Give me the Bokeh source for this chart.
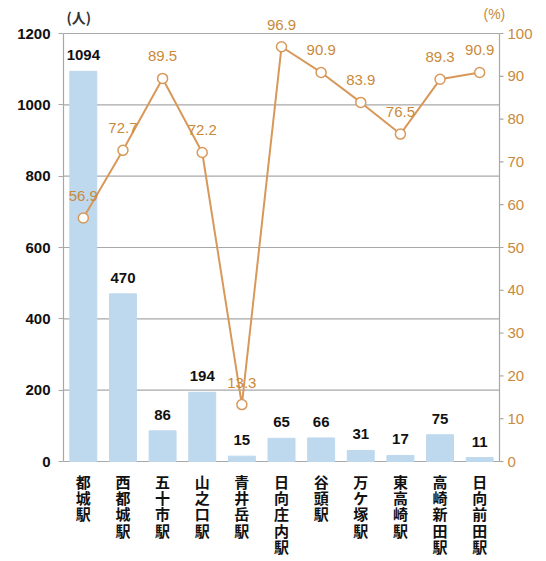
from bokeh.plotting import figure
from bokeh.models import Range1d, ColumnDataSource, Label, FixedTicker
from bokeh.core.properties import value
from bokeh.embed import file_html
from bokeh.resources import INLINE

stations = ["都城駅", "西都城駅", "五十市駅", "山之口駅", "青井岳駅", "日向庄内駅",
            "谷頭駅", "万ケ塚駅", "東高崎駅", "高崎新田駅", "日向前田駅"]
passengers = [1094, 470, 86, 194, 15, 65, 66, 31, 17, 75, 11]
rates = [56.9, 72.7, 89.5, 72.2, 13.3, 96.9, 90.9, 83.9, 76.5, 89.3, 90.9]
left_ticks = [0, 200, 400, 600, 800, 1000, 1200]
right_ticks = [0, 10, 20, 30, 40, 50, 60, 70, 80, 90, 100]

BAR = "#bed8ee"
LINE = "#d8985a"
TXT = "#c98a3c"
GRID = "#a8a8a8"
JP = "Noto Sans CJK JP"

# layout: plot area x 63..499, value 0 at y=461, 1200 at y=33 (frame y 5..561)
N = len(stations)
CELL = 436 / N
PX = 428 / 1200.0
Y0 = -100 / PX
Y1 = 1200 + 28 / PX
XR = -0.5 + (546 - 63) / CELL
XEND = N - 0.5
TICK = 4 / CELL

idx = list(range(N))
src = ColumnDataSource(dict(
    x=idx, n=passengers, r=rates,
    nl=[str(v) for v in passengers],
    rl=[f"{v:.1f}" for v in rates],
    vl=["\n".join(s) for s in stations],
    z=[0] * N,
))
lt = ColumnDataSource(dict(y=left_ticks, x0=[-0.5] * len(left_ticks), x1=[XEND] * len(left_ticks)))
rt = ColumnDataSource(dict(y=right_ticks, x0=[XEND] * len(right_ticks),
                           x1=[XEND + TICK] * len(right_ticks),
                           lab=[str(v) for v in right_ticks]))

p = figure(x_range=Range1d(-0.5, XR), y_range=Range1d(Y0, Y1), width=546, height=561,
           output_backend="svg", toolbar_location=None,
           min_border_left=63, min_border_right=0, min_border_top=5, min_border_bottom=0)
p.extra_y_ranges = {"pct": Range1d(Y0 / 12.0, Y1 / 12.0)}

# grid lines (only across plot area)
p.segment(x0="x0", x1="x1", y0="y", y1="y", source=lt, color=GRID, line_width=1.2)

p.vbar(x="x", top="n", width=0.68, color=BAR, source=src)
p.text(x="x", y="n", text="nl", source=src, text_align="center", text_baseline="bottom",
       y_offset=-11, text_font=value("Liberation Sans"), text_font_style="bold",
       text_font_size="15px", text_color="#111111")

p.line(x="x", y="r", source=src, y_range_name="pct", color=LINE, line_width=2)
p.scatter(x="x", y="r", source=src, y_range_name="pct", size=10, fill_color="white",
          line_color=LINE, line_width=1.5)
p.text(x="x", y="r", text="rl", source=src, y_range_name="pct", text_align="center",
       text_baseline="bottom", y_offset=-17, text_font=value("Liberation Sans"),
       text_font_size="15px", text_color=TXT)

# vertical category labels
p.text(x="x", y="z", text="vl", source=src, text_align="center", text_baseline="top",
       y_offset=9, text_font=value(JP), text_font_style="bold", text_font_size="15px",
       text_line_height=0.78, text_color="#111111")

# right axis (drawn inside the canvas)
p.segment(x0=XEND, x1=XEND, y0=0, y1=100, y_range_name="pct", color=GRID, line_width=1.2)
p.segment(x0="x0", x1="x1", y0="y", y1="y", source=rt, y_range_name="pct",
          color=GRID, line_width=1.2)
p.text(x="x0", y="y", text="lab", source=rt, y_range_name="pct", text_align="left",
       text_baseline="middle", x_offset=8, text_font=value("Liberation Sans"),
       text_font_size="15px", text_color=TXT)

# left axis
p.yaxis.ticker = FixedTicker(ticks=left_ticks)
p.yaxis.bounds = (0, 1200)
p.yaxis.major_label_text_font = "Liberation Sans"
p.yaxis.major_label_text_font_style = "bold"
p.yaxis.major_label_text_font_size = "15px"
p.yaxis.major_label_text_color = "#111111"
p.yaxis.axis_line_color = GRID
p.yaxis.axis_line_width = 1.2
p.yaxis.major_tick_line_color = GRID
p.yaxis.major_tick_in = 0
p.yaxis.major_tick_out = 5
p.yaxis.minor_tick_line_color = None
p.yaxis.major_label_standoff = 8

p.xaxis.visible = False
p.xgrid.grid_line_color = None
p.ygrid.grid_line_color = None
p.outline_line_color = None

p.add_layout(Label(x=66, y=6, x_units="canvas", y_units="canvas", text="(人)",
                   text_baseline="top", text_font=JP, text_font_size="14px",
                   text_font_style="bold", text_color="#333333"))
p.add_layout(Label(x=483, y=5, x_units="canvas", y_units="canvas", text="(%)",
                   text_baseline="top", text_font="Liberation Sans", text_font_size="14px",
                   text_color=TXT))

open("out.html", "w").write(file_html(p, INLINE))
